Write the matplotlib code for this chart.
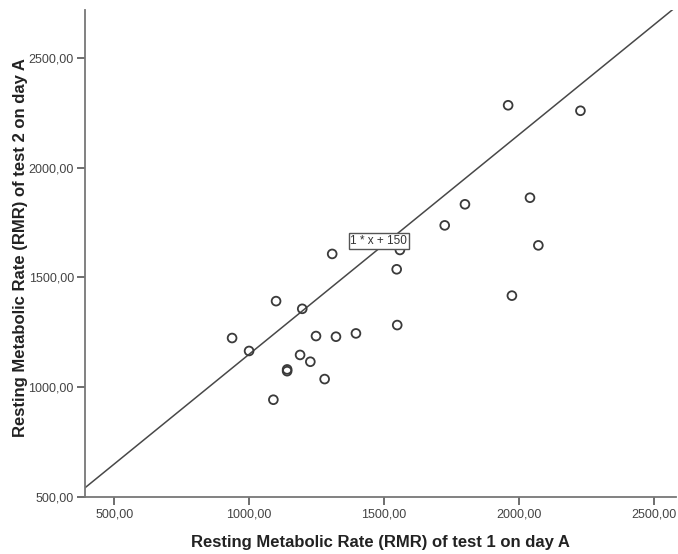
import matplotlib.pyplot as plt

# RMR values
rmr_test1 = [937, 1000, 1100, 1197, 1248, 1322, 1189, 1227, 1141, 1141, 1280, 1090,
             1396, 1549, 1974, 1960, 2228, 1800, 1725, 2041, 2072, 1559, 1547, 1308]
rmr_test2 = [1224, 1165, 1392, 1357, 1233, 1230, 1147, 1116, 1081, 1073, 1037, 943,
             1245, 1283, 1417, 2284, 2259, 1833, 1737, 1863, 1646, 1625, 1537, 1607]
x_ticks = [500, 1000, 1500, 2000, 2500]
y_ticks = [500, 1000, 1500, 2000, 2500]
slope, intercept = 1, 150

plt.rcParams['font.family'] = ['Liberation Sans', 'DejaVu Sans']

fig = plt.figure(figsize=(6.78, 5.54), dpi=100)
ax = fig.add_axes([0.1254, 0.1029, 0.8716, 0.8791])

x0, x1 = 392, 2582
y0, y1 = 500, 2718
ax.plot([x0, x1], [slope * x0 + intercept, slope * x1 + intercept],
        color='#484848', lw=1.1, zorder=2)
ax.scatter(rmr_test1, rmr_test2, s=40, facecolors='none', edgecolors='#3a3a3a',
           linewidths=1.3, zorder=3)

ax.text(1481, 1666, "1 * x + 150", fontsize=8.5, color='#333333',
        ha='center', va='center', zorder=4,
        bbox=dict(boxstyle='square,pad=0.15', fc='white', ec='#555555', lw=1))

ax.set_xlim(x0, x1)
ax.set_ylim(y0, y1)
ax.set_xticks(x_ticks)
ax.set_yticks(y_ticks)
ax.set_xticklabels(["{:.2f}".format(v).replace('.', ',') for v in x_ticks])
ax.set_yticklabels(["{:.2f}".format(v).replace('.', ',') for v in y_ticks])
ax.tick_params(direction='out', length=6, width=1.2, color='#555555',
               labelsize=9, labelcolor='#444444', pad=2)

for s in ['top', 'right']:
    ax.spines[s].set_visible(False)
for s in ['left', 'bottom']:
    ax.spines[s].set_color('#777777')
    ax.spines[s].set_linewidth(1.3)

ax.set_xlabel("Resting Metabolic Rate (RMR) of test 1 on day A",
              fontsize=12, fontweight='bold', color='#222222', va='center')
ax.set_ylabel("Resting Metabolic Rate (RMR) of test 2 on day A",
              fontsize=12, fontweight='bold', color='#222222', va='center')
ax.xaxis.set_label_coords(0.5, -(543 - 497) / 487)
ax.yaxis.set_label_coords(-(85 - 20) / 591, 0.513)

fig.savefig('out.png', dpi=100)
